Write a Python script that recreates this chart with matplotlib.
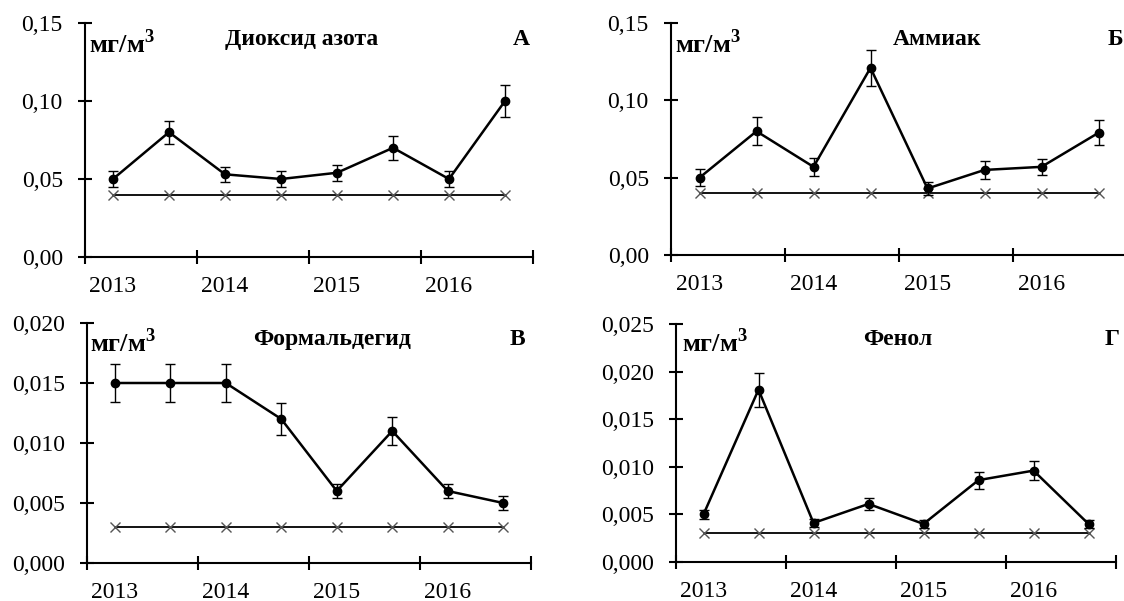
import matplotlib.pyplot as plt

plt.rcParams['font.family'] = ['Liberation Serif', 'DejaVu Serif']
plt.rcParams['mathtext.fontset'] = 'custom'
plt.rcParams['mathtext.rm'] = 'Liberation Serif:bold'

years = ['2013', '2014', '2015', '2016']
x = [0.5, 1.5, 2.5, 3.5, 4.5, 5.5, 6.5, 7.5]

# диоксид азота
no2 = [0.050, 0.080, 0.053, 0.050, 0.054, 0.070, 0.050, 0.100]
no2_err = [0.005, 0.0075, 0.005, 0.005, 0.005, 0.0075, 0.005, 0.010]
no2_pdk = [0.04] * 8

# аммиак
nh3 = [0.050, 0.080, 0.057, 0.121, 0.043, 0.055, 0.057, 0.079]
nh3_err = [0.0055, 0.009, 0.006, 0.0115, 0.0043, 0.006, 0.005, 0.008]
nh3_pdk = [0.04] * 8

# формальдегид
hcho = [0.015, 0.015, 0.015, 0.012, 0.006, 0.011, 0.006, 0.005]
hcho_err = [0.0016, 0.0016, 0.0016, 0.0013, 0.0006, 0.0012, 0.0006, 0.0006]
hcho_pdk = [0.003] * 8

# фенол
phenol = [0.0050, 0.0181, 0.0041, 0.0061, 0.0040, 0.0086, 0.0096, 0.0040]
phenol_err = [0.0005, 0.0018, 0.0004, 0.0006, 0.0004, 0.0009, 0.001, 0.0004]
phenol_pdk = [0.003] * 8

# pixel boxes (left, top, right, bottom) and text positions
panels = [
    ([85, 23, 533, 257], no2, no2_err, no2_pdk, 0.15, 0.05, '{:.2f}',
     'Диоксид азота', 302, 'А', 513, 89, 45, 53),
    ([671, 23, 1127, 255], nh3, nh3_err, nh3_pdk, 0.15, 0.05, '{:.2f}',
     'Аммиак', 937, 'Б', 1108, 675, 45, 53),
    ([87, 323, 531, 563], hcho, hcho_err, hcho_pdk, 0.020, 0.005, '{:.3f}',
     'Формальдегид', 332, 'В', 510, 90, 345, 352),
    ([676, 324, 1116, 562], phenol, phenol_err, phenol_pdk, 0.025, 0.005, '{:.3f}',
     'Фенол', 898, 'Г', 1105, 682, 345, 352),
]

W, H = 1124, 601
fig = plt.figure(figsize=(11.24, 6.01), dpi=100)

for (rect, vals, errs, pdk, ymax, step, fmt, title, tx, letter, lx,
     mx, ty, my) in panels:
    l, t, r, b = rect
    ax = fig.add_axes([l / W, 1 - b / H, (r - l) / W, (b - t) / H])

    ax.plot(x, pdk, color='black', lw=1.3, marker='x', ms=7, mew=1.0,
            mec='#555555', zorder=2, clip_on=False)
    ax.errorbar(x, vals, yerr=errs, color='black', lw=1.8, marker='o', ms=6,
                ecolor='black', elinewidth=1.0, capsize=3.5, capthick=1.0,
                zorder=3, clip_on=False)

    ax.set_xlim(0, 8)
    ax.set_ylim(0, ymax)
    n = int(round(ymax / step))
    yt = [i * step for i in range(n + 1)]
    ax.set_yticks(yt)
    ax.set_yticklabels([fmt.format(v).replace('.', ',') for v in yt])

    ax.set_xticks([0, 2, 4, 6, 8])
    ax.set_xticklabels([])
    ax.set_xticks([0.5, 2.5, 4.5, 6.5], minor=True)
    ax.set_xticklabels(years, minor=True)
    ax.tick_params(axis='x', which='major', direction='inout', length=10, width=1.5)
    ax.tick_params(axis='x', which='minor', length=0, pad=13.5, labelsize=17)
    ax.tick_params(axis='y', direction='inout', length=10, width=1.5, pad=11,
                   labelsize=17)

    for s in ['top', 'right']:
        ax.spines[s].set_visible(False)
    for s in ['left', 'bottom']:
        ax.spines[s].set_linewidth(1.5)
    ax.set_facecolor('none')

    fig.text(mx / W, 1 - my / H, 'мг/м$^{\\mathrm{3}}$', fontsize=19,
             fontweight='bold', ha='left', va='baseline')
    fig.text(tx / W, 1 - ty / H, title, fontsize=17, fontweight='bold',
             ha='center', va='baseline')
    fig.text(lx / W, 1 - ty / H, letter, fontsize=17, fontweight='bold',
             ha='left', va='baseline')

fig.savefig('out.png', dpi=100)
